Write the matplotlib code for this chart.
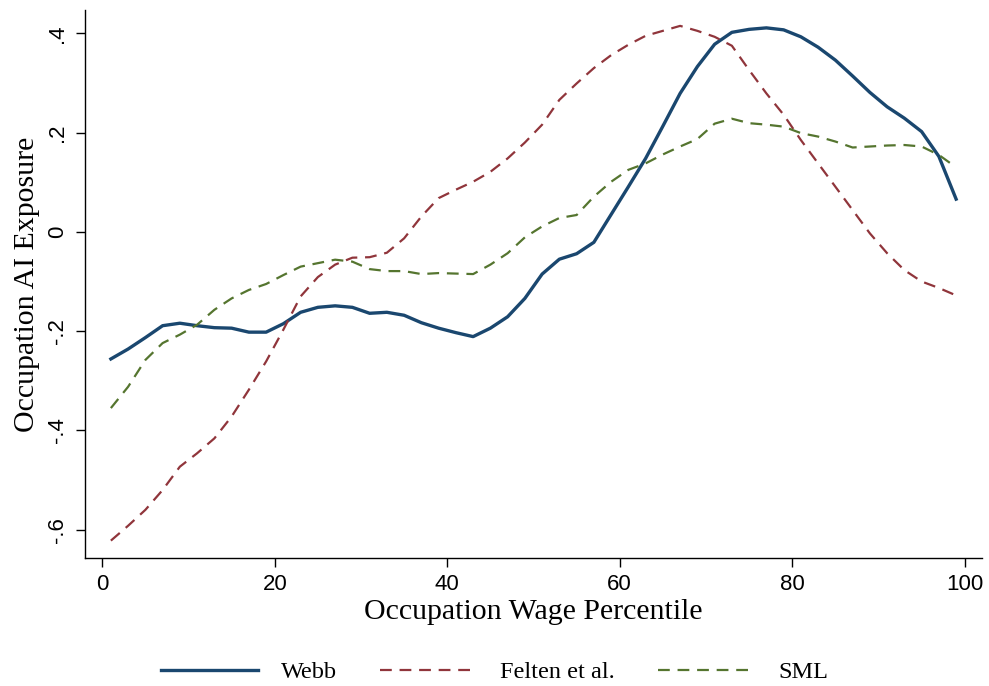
import matplotlib
matplotlib.use("Agg")
import matplotlib.pyplot as plt
import numpy as np

percentile = list(range(1, 100, 2))

webb = [-0.256, -0.236, -0.213, -0.189, -0.184, -0.189, -0.193, -0.194, -0.202, -0.202,
        -0.185, -0.162, -0.152, -0.149, -0.152, -0.164, -0.162, -0.168, -0.183, -0.194,
        -0.203, -0.211, -0.194, -0.171, -0.134, -0.085, -0.055, -0.044, -0.021, 0.035,
        0.091, 0.148, 0.213, 0.279, 0.333, 0.378, 0.402, 0.408, 0.411, 0.407,
        0.393, 0.372, 0.346, 0.314, 0.281, 0.252, 0.229, 0.202, 0.152, 0.066]

felten = [-0.622, -0.592, -0.560, -0.520, -0.473, -0.446, -0.416, -0.372, -0.318, -0.261,
          -0.197, -0.130, -0.091, -0.066, -0.052, -0.051, -0.042, -0.013, 0.031, 0.068,
          0.085, 0.101, 0.121, 0.148, 0.180, 0.216, 0.266, 0.299, 0.330, 0.356,
          0.377, 0.395, 0.405, 0.415, 0.405, 0.393, 0.375, 0.326, 0.279, 0.236,
          0.185, 0.138, 0.091, 0.044, -0.003, -0.043, -0.077, -0.100, -0.113, -0.128]

sml = [-0.355, -0.312, -0.258, -0.224, -0.207, -0.187, -0.157, -0.134, -0.117, -0.105,
       -0.087, -0.070, -0.063, -0.056, -0.060, -0.075, -0.079, -0.079, -0.085, -0.083,
       -0.084, -0.085, -0.066, -0.043, -0.011, 0.011, 0.028, 0.034, 0.071, 0.101,
       0.125, 0.138, 0.156, 0.172, 0.187, 0.218, 0.228, 0.219, 0.216, 0.212,
       0.199, 0.192, 0.182, 0.170, 0.172, 0.174, 0.175, 0.172, 0.155, 0.130]

xticks = [0, 20, 40, 60, 80, 100]
yticks = [-0.6, -0.4, -0.2, 0, 0.2, 0.4]
ytick_labels = ["-.6", "-.4", "-.2", "0", ".2", ".4"]

W, H = 989, 686
fig = plt.figure(figsize=(W / 100, H / 100), dpi=100)
ax = fig.add_axes([85 / W, 1 - 558 / H, (982 - 85) / W, (558 - 10) / H])

serif = ["Liberation Serif", "DejaVu Serif"]
sans = ["Liberation Sans", "DejaVu Sans"]

l1, = ax.plot(percentile, webb, color="#1a476f", lw=2.4, solid_joinstyle="round")
l2, = ax.plot(percentile, felten, color="#90353b", lw=1.6, dashes=(5.3, 3.5))
l3, = ax.plot(percentile, sml, color="#55752f", lw=1.6, dashes=(5.3, 3.5))

ax.set_xlim(-2, 102)
ax.set_ylim(-0.657, 0.447)
ax.set_xticks(xticks)
ax.set_xticklabels([str(t) for t in xticks], fontfamily=sans, fontsize=16)
ax.set_yticks(yticks)
ax.set_yticklabels(ytick_labels, fontfamily=sans, fontsize=16, rotation=90, va="center")
ax.tick_params(direction="out", length=6.5, width=1, colors="black")
ax.tick_params(axis="x", pad=5)
ax.tick_params(axis="y", pad=6)
for s in ["top", "right"]:
    ax.spines[s].set_visible(False)
for s in ["left", "bottom"]:
    ax.spines[s].set_linewidth(1)

ax.set_xlabel("Occupation Wage Percentile", fontfamily=serif, fontsize=21.5, labelpad=3)
ax.set_ylabel("Occupation AI Exposure", fontfamily=serif, fontsize=21.5, labelpad=5)

fig.legend([l1, l2, l3], ["Webb", "Felten et al.", "SML"], loc="center",
           bbox_to_anchor=(0.5, 1 - 672 / H), ncol=3, frameon=False,
           borderpad=0, borderaxespad=0,
           prop={"family": serif, "size": 17.5}, handlelength=4.0, columnspacing=1.75,
           handletextpad=0.95)

fig.savefig("out.png", dpi=100, facecolor="white")
